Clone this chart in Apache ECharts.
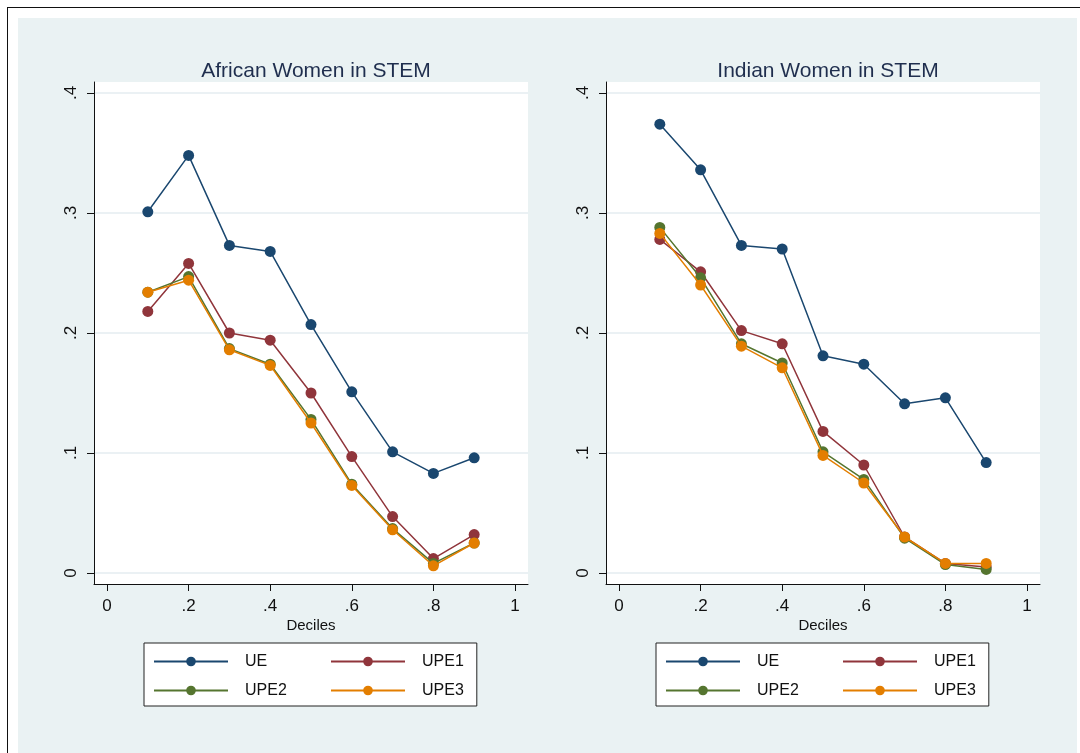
<!DOCTYPE html>
<html>
<head>
<meta charset="utf-8">
<title>African and Indian Women in STEM</title>
<script src="https://cdn.jsdelivr.net/npm/echarts@6/dist/echarts.min.js"></script>
<style>
  html, body { margin: 0; padding: 0; background: #fff; }
  #frame { position: absolute; left: 7px; top: 7px; width: 1073px; height: 746px;
           border-left: 1.5px solid #111; border-top: 1.5px solid #111; }
  #bg { position: absolute; left: 18px; top: 18px; width: 1059px; height: 735px; background: #eaf2f3; }
  #chart { position: absolute; left: 0; top: 0; width: 1080px; height: 753px; }
</style>
</head>
<body>
<div id="frame"></div>
<div id="bg"></div>
<div id="chart"></div>
<script>
// deciles on the x axis
var deciles = [0.1, 0.2, 0.3, 0.4, 0.5, 0.6, 0.7, 0.8, 0.9];

// African Women in STEM
var africanUE   = [0.301, 0.348, 0.273, 0.268, 0.207, 0.151, 0.101, 0.083, 0.096];
var africanUPE1 = [0.218, 0.258, 0.200, 0.194, 0.150, 0.097, 0.047, 0.012, 0.032];
var africanUPE2 = [0.234, 0.247, 0.187, 0.174, 0.128, 0.074, 0.037, 0.008, 0.025];
var africanUPE3 = [0.234, 0.244, 0.186, 0.173, 0.125, 0.073, 0.036, 0.006, 0.025];

// Indian Women in STEM
var indianUE   = [0.374, 0.336, 0.273, 0.270, 0.181, 0.174, 0.141, 0.146, 0.092];
var indianUPE1 = [0.278, 0.251, 0.202, 0.191, 0.118, 0.090, 0.030, 0.008, 0.005];
var indianUPE2 = [0.288, 0.246, 0.191, 0.175, 0.101, 0.078, 0.029, 0.007, 0.003];
var indianUPE3 = [0.283, 0.240, 0.189, 0.171, 0.098, 0.075, 0.030, 0.008, 0.008];

// ticks
var xTickValues = [0, 0.2, 0.4, 0.6, 0.8, 1];
var xTickLabels = ['0', '.2', '.4', '.6', '.8', '1'];
var yTickValues = [0, 0.1, 0.2, 0.3, 0.4];
var yTickLabels = ['0', '.1', '.2', '.3', '.4'];

var seriesNames = ['UE', 'UPE1', 'UPE2', 'UPE3'];
var colors = ['#1a476f', '#90353b', '#55752f', '#e37e00'];
var font = 'Liberation Sans, Arial, Helvetica, sans-serif';

function tickLabel(values, labels) {
    return function (v) {
        for (var i = 0; i < values.length; i++) {
            if (Math.abs(values[i] - v) < 1e-9) return labels[i];
        }
        return '';
    };
}

function pairs(ys) {
    return deciles.map(function (x, i) { return [x, ys[i]]; });
}

function makeX(idx) {
    return {
        type: 'value', gridIndex: idx,
        min: -0.0319, max: 1.0319,
        name: 'Deciles', nameLocation: 'middle', nameGap: 34,
        nameMoveOverlap: false,
        nameTextStyle: { fontFamily: font, fontSize: 15, color: '#111' },
        axisLine: { show: true, onZero: false, lineStyle: { color: '#111', width: 1 } },
        axisTick: { show: true, length: 7, customValues: xTickValues, lineStyle: { color: '#111' } },
        axisLabel: { customValues: xTickValues, margin: 14, fontFamily: font, fontSize: 17, color: '#111',
                     formatter: tickLabel(xTickValues, xTickLabels) },
        splitLine: { show: false }
    };
}

function makeY(idx) {
    return {
        type: 'value', gridIndex: idx,
        min: -0.00917, max: 0.40917,
        axisLine: { show: true, onZero: false, lineStyle: { color: '#111', width: 1 } },
        axisTick: { show: true, length: 7, customValues: yTickValues, lineStyle: { color: '#111' } },
        axisLabel: { customValues: yTickValues, rotate: 90, margin: 14, fontFamily: font, fontSize: 17, color: '#111',
                     formatter: tickLabel(yTickValues, yTickLabels) },
        splitLine: { show: true, lineStyle: { color: '#e4edf0', width: 1.5 } }
    };
}

function makeSeries(idx, lists) {
    return lists.map(function (ys, k) {
        return {
            name: seriesNames[k], type: 'line',
            xAxisIndex: idx, yAxisIndex: idx,
            data: pairs(ys),
            symbol: 'circle', symbolSize: 11,
            itemStyle: { color: colors[k] },
            lineStyle: { color: colors[k], width: 1.5 },
            z: 2 + k
        };
    });
}

function makeLegend(left) {
    var colW = [75, 40, 75, 40];
    return {
        left: left, top: 643,
        width: 332,
        orient: 'horizontal',
        itemWidth: 74, itemHeight: 12, itemGap: 10,
        padding: [9, 13, 6, 9],
        borderColor: '#222', borderWidth: 1, borderRadius: 0,
        backgroundColor: '#fff',
        selectedMode: false,
        data: seriesNames.map(function (n, i) {
            return { name: n, textStyle: { width: colW[i] } };
        }),
        textStyle: { fontFamily: font, fontSize: 16, color: '#111', height: 19, lineHeight: 19,
                     padding: [0, 0, 0, 12] }
    };
}

var chart = echarts.init(document.getElementById('chart'), null, { renderer: 'canvas' });

chart.setOption({
    animation: false,
    backgroundColor: 'transparent',
    title: [
        { text: 'African Women in STEM', left: 311, top: 56, textAlign: 'center',
          textStyle: { fontFamily: font, fontSize: 21, fontWeight: 'normal', color: '#1f2e4e' } },
        { text: 'Indian Women in STEM', left: 823, top: 56, textAlign: 'center',
          textStyle: { fontFamily: font, fontSize: 21, fontWeight: 'normal', color: '#1f2e4e' } }
    ],
    grid: [
        { left: 94, top: 82, width: 434, height: 502, show: true, backgroundColor: '#fff', borderWidth: 0 },
        { left: 606, top: 82, width: 434, height: 502, show: true, backgroundColor: '#fff', borderWidth: 0 }
    ],
    xAxis: [makeX(0), makeX(1)],
    yAxis: [makeY(0), makeY(1)],
    legend: [makeLegend(144), makeLegend(656)],
    series: makeSeries(0, [africanUE, africanUPE1, africanUPE2, africanUPE3])
        .concat(makeSeries(1, [indianUE, indianUPE1, indianUPE2, indianUPE3]))
});
</script>
</body>
</html>
